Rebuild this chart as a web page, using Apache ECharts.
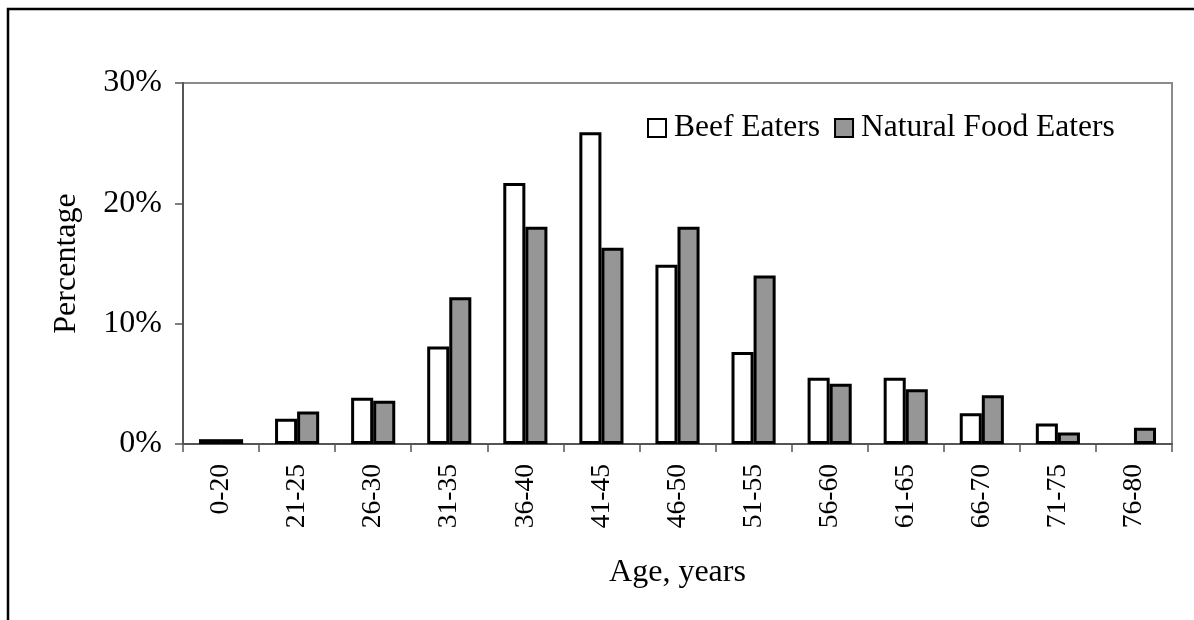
<!DOCTYPE html>
<html>
<head>
<meta charset="utf-8">
<script src="https://cdn.jsdelivr.net/npm/echarts@6/dist/echarts.min.js"></script>
<style>
html,body{margin:0;padding:0;background:#fff;}
#chart{width:1194px;height:620px;}
</style>
</head>
<body>
<div id="chart"></div>
<script>
const categories = ['0-20','21-25','26-30','31-35','36-40','41-45','46-50','51-55','56-60','61-65','66-70','71-75','76-80'];
const beefEaters = [0.4, 2.1, 3.85, 8.1, 21.7, 25.9, 14.9, 7.65, 5.5, 5.5, 2.55, 1.7, 0];
const naturalFoodEaters = [0.4, 2.7, 3.6, 12.2, 18.05, 16.3, 18.05, 14.0, 5.0, 4.55, 4.05, 0.95, 1.35];
const yTicks = {min: 0, max: 30, interval: 10};
const seriesNames = ['Beef Eaters', 'Natural Food Eaters'];

const FONT = "'Liberation Serif', 'DejaVu Serif', serif";
// zero-height bars are not outlined (as in the reference)
const toData = arr => arr.map(v => v === 0 ? {value: v, itemStyle: {borderWidth: 0}} : v);

const chart = echarts.init(document.getElementById('chart'), null, {renderer: 'canvas'});
chart.setOption({
  animation: false,
  backgroundColor: '#fff',
  textStyle: {fontFamily: FONT, color: '#000'},
  graphic: [{
    type: 'rect',
    shape: {x: 8, y: 9, width: 1300, height: 800},
    style: {fill: 'none', stroke: '#000', lineWidth: 2.5},
    silent: true
  }],
  grid: {
    left: 183, right: 22, top: 83, bottom: 176,
    show: true, borderColor: '#8a8a8a', borderWidth: 2, backgroundColor: 'transparent'
  },
  legend: {
    left: 642, top: 107,
    itemWidth: 18, itemHeight: 18, itemGap: 14,
    icon: 'rect',
    textStyle: {fontFamily: FONT, fontSize: 31.5, color: '#000', padding: [0, 0, 0, 3]},
    data: seriesNames
  },
  xAxis: {
    type: 'category',
    data: categories,
    boundaryGap: true,
    name: 'Age, years',
    nameLocation: 'middle',
    nameGap: 113,
    nameTextStyle: {fontFamily: FONT, fontSize: 32, color: '#000'},
    axisLine: {lineStyle: {color: '#555', width: 2}},
    axisTick: {show: true, length: 8, lineStyle: {color: '#555', width: 1.5}},
    axisLabel: {interval: 0, rotate: 90, margin: 20, fontFamily: FONT, fontSize: 27.5, color: '#000'},
    splitLine: {show: false}
  },
  yAxis: {
    type: 'value',
    min: yTicks.min, max: yTicks.max, interval: yTicks.interval,
    name: 'Percentage',
    nameLocation: 'middle',
    nameGap: 100,
    nameRotate: 90,
    nameTextStyle: {fontFamily: FONT, fontSize: 32, color: '#000'},
    axisLine: {show: true, lineStyle: {color: '#555', width: 2}},
    axisTick: {show: true, length: 8, lineStyle: {color: '#555', width: 1.5}},
    axisLabel: {formatter: '{value}%', margin: 21, fontFamily: FONT, fontSize: 32, color: '#000', padding: [8, 0, 0, 0]},
    splitLine: {show: false}
  },
  series: [
    {
      name: seriesNames[0], type: 'bar', data: toData(beefEaters),
      barGap: '0%', barCategoryGap: '42%',
      itemStyle: {color: '#ffffff', borderColor: '#000', borderWidth: 3}
    },
    {
      name: seriesNames[1], type: 'bar', data: toData(naturalFoodEaters),
      barGap: '0%', barCategoryGap: '42%',
      itemStyle: {color: '#969696', borderColor: '#000', borderWidth: 3}
    }
  ]
});
</script>
</body>
</html>
